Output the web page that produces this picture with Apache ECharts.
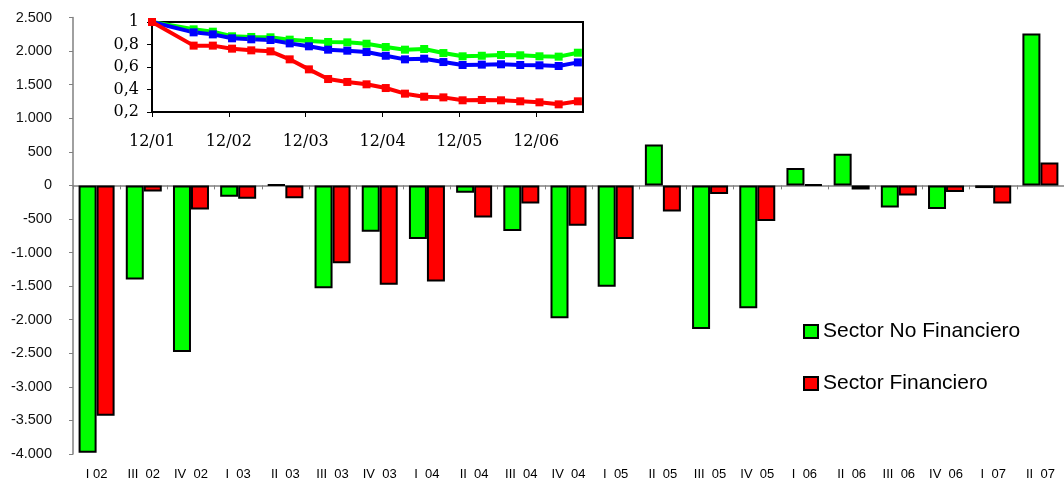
<!DOCTYPE html>
<html>
<head>
<meta charset="utf-8">
<script src="https://cdn.jsdelivr.net/npm/echarts@6/dist/echarts.min.js"></script>
<style>
  html, body { margin: 0; padding: 0; background: #fff; }
  #chart { width: 1064px; height: 482px; }
</style>
</head>
<body>
<div id="chart"></div>
<script>
// Quarterly flows by sector
const quarters = ['I 02', 'III  02', 'IV  02', 'I  03', 'II  03', 'III  03', 'IV  03', 'I  04', 'II  04',
  'III  04', 'IV  04', 'I  05', 'II  05', 'III  05', 'IV  05', 'I  06', 'II  06', 'III  06', 'IV  06',
  'I  07', 'II  07'];
const sectorNoFinanciero = [-3980, -1400, -2480, -170, 10, -1530, -690, -800, -110, -680, -1980,
  -1510, 610, -2140, -1830, 260, 470, -330, -350, -40, 2260];
const sectorFinanciero = [-3430, -90, -360, -200, -190, -1160, -1480, -1430, -480, -270, -600,
  -800, -390, -130, -530, 15, -60, -150, -100, -270, 340];

// Index series (12/01 = 1), x in months since December 2001
const indexMonths = [0, 6.5, 9.5, 12.5, 15.5, 18.5, 21.5, 24.5, 27.5, 30.5, 33.5, 36.5, 39.5,
  42.5, 45.5, 48.5, 51.5, 54.5, 57.5, 60.5, 63.5, 66.5];
const indexNoFinanciero = [1, 0.935, 0.914, 0.873, 0.867, 0.864, 0.843, 0.831, 0.822, 0.819, 0.807,
  0.778, 0.754, 0.76, 0.724, 0.695, 0.70, 0.707, 0.704, 0.695, 0.692, 0.727];
const indexTotal = [1, 0.908, 0.89, 0.855, 0.846, 0.84, 0.81, 0.784, 0.754, 0.745, 0.733,
  0.70, 0.668, 0.674, 0.644, 0.618, 0.621, 0.624, 0.618, 0.615, 0.609, 0.641];
const indexFinanciero = [1, 0.79, 0.79, 0.763, 0.748, 0.739, 0.668, 0.579, 0.493, 0.467, 0.446,
  0.413, 0.363, 0.336, 0.330, 0.304, 0.307, 0.304, 0.295, 0.286, 0.268, 0.295];
const indexTickLabels = ['12/01', '12/02', '12/03', '12/04', '12/05', '12/06'];

const pairs = (xs, ys) => xs.map((x, i) => [x, ys[i]]);

function thousands(v) {
  const s = Math.abs(v).toString().replace(/\B(?=(\d{3})+(?!\d))/g, '.');
  return (v < 0 ? '-' : '') + s;
}

const sans = '"Liberation Sans", Arial, sans-serif';
const serif = '"DejaVu Serif", serif';
const axisGrey = '#808080';

const chart = echarts.init(document.getElementById('chart'), null, { renderer: 'canvas' });

chart.setOption({
  animation: false,
  backgroundColor: '#fff',
  legend: {
    data: ['Sector No Financiero', 'Sector Financiero'],
    orient: 'vertical',
    left: 803,
    top: 321,
    padding: 0,
    itemWidth: 14,
    itemHeight: 13,
    itemGap: 31,
    icon: 'rect',
    textStyle: { fontFamily: sans, fontSize: 21, color: '#000' }
  },
  grid: [
    { left: 73, right: -3, top: 17.5, bottom: 28 },
    { left: 152, top: 22, width: 431, height: 90, show: true,
      borderColor: '#000', borderWidth: 2, backgroundColor: '#fff' }
  ],
  xAxis: [
    {
      type: 'category', gridIndex: 0, data: quarters,
      axisLine: { onZero: true, lineStyle: { color: axisGrey, width: 1.5 } },
      axisTick: { show: true, length: 4, lineStyle: { color: axisGrey } },
      axisLabel: { show: false }
    },
    {
      type: 'category', gridIndex: 0, data: quarters, position: 'bottom',
      axisLine: { show: false, onZero: false },
      axisTick: { show: false },
      axisLabel: { fontFamily: sans, fontSize: 13, color: '#000', margin: 14, interval: 0 }
    },
    {
      type: 'value', gridIndex: 1, min: 0, max: 67.3, interval: 12,
      axisLine: { show: true, onZero: false, lineStyle: { color: '#000', width: 2 } },
      axisTick: { show: true, length: 5, lineStyle: { color: '#000' } },
      axisLabel: {
        fontFamily: serif, fontSize: 16, color: '#000', margin: 22, showMaxLabel: false,
        formatter: v => indexTickLabels[Math.round(v / 12)] || ''
      },
      splitLine: { show: false }
    }
  ],
  yAxis: [
    {
      type: 'value', gridIndex: 0, min: -4000, max: 2500, interval: 500,
      axisLine: { show: true, lineStyle: { color: axisGrey, width: 1.5 } },
      axisTick: { show: true, length: 4, lineStyle: { color: axisGrey } },
      axisLabel: { fontFamily: sans, fontSize: 14.5, color: '#111', margin: 21, formatter: thousands },
      splitLine: { show: false }
    },
    {
      type: 'value', gridIndex: 1, min: 0.2, max: 1, interval: 0.2,
      axisLine: { show: true, lineStyle: { color: '#000', width: 2 } },
      axisTick: { show: true, length: 5, lineStyle: { color: '#000' } },
      axisLabel: {
        fontFamily: serif, fontSize: 16, color: '#000', margin: 13,
        formatter: v => (Math.abs(v - 1) < 1e-9 ? '1' : v.toFixed(1).replace('.', ','))
      },
      splitLine: { show: false }
    }
  ],
  series: [
    {
      name: 'Sector No Financiero', type: 'bar', xAxisIndex: 0, yAxisIndex: 0,
      data: sectorNoFinanciero, barWidth: 18, barGap: '0%',
      itemStyle: { color: '#00ff00', borderColor: '#000', borderWidth: 2 }
    },
    {
      name: 'Sector Financiero', type: 'bar', xAxisIndex: 0, yAxisIndex: 0,
      data: sectorFinanciero, barWidth: 18, barGap: '0%',
      itemStyle: { color: '#ff0000', borderColor: '#000', borderWidth: 2 }
    },
    {
      name: 'Índice no financiero', type: 'line', xAxisIndex: 2, yAxisIndex: 1,
      data: pairs(indexMonths, indexNoFinanciero),
      symbol: 'rect', symbolSize: 8, lineStyle: { color: '#00ff00', width: 4 },
      itemStyle: { color: '#00ff00' }
    },
    {
      name: 'Índice total', type: 'line', xAxisIndex: 2, yAxisIndex: 1,
      data: pairs(indexMonths, indexTotal),
      symbol: 'rect', symbolSize: 8, lineStyle: { color: '#0000ff', width: 4 },
      itemStyle: { color: '#0000ff' }
    },
    {
      name: 'Índice financiero', type: 'line', xAxisIndex: 2, yAxisIndex: 1,
      data: pairs(indexMonths, indexFinanciero),
      symbol: 'rect', symbolSize: 8, lineStyle: { color: '#ff0000', width: 4 },
      itemStyle: { color: '#ff0000' }
    }
  ]
});
</script>
</body>
</html>
